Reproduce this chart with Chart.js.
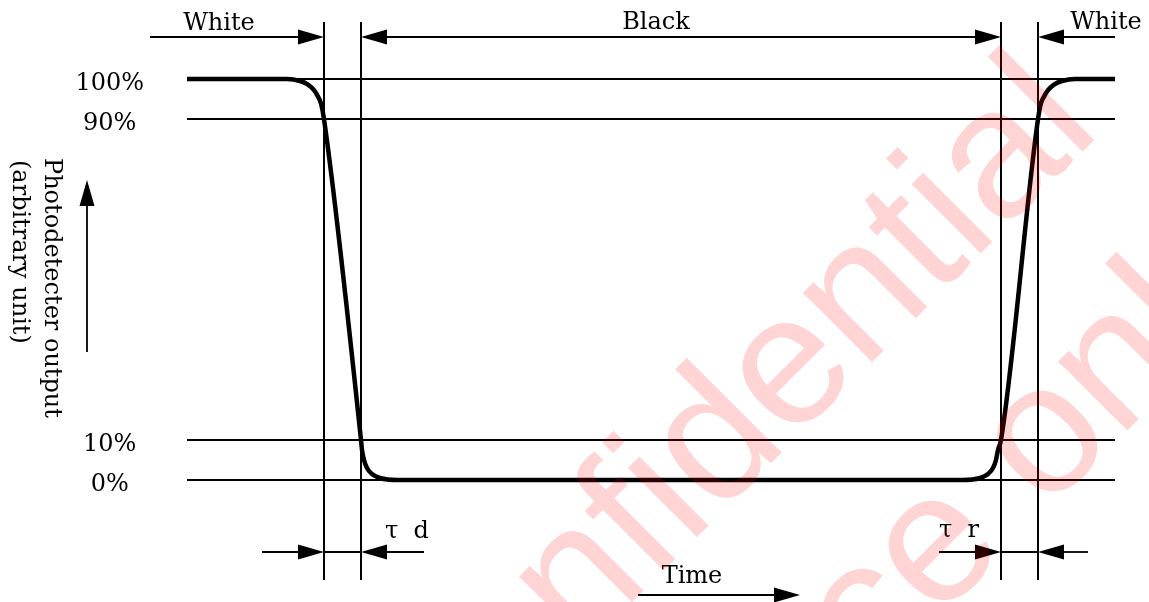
<!DOCTYPE html>
<html><head><meta charset="utf-8">
<script src="https://cdn.jsdelivr.net/npm/chart.js@4"></script>
<style>html,body{margin:0;padding:0;background:#fff}canvas{display:block}</style>
</head><body>
<canvas id="c" width="1149" height="602"></canvas>
<script>
// Time positions (arbitrary units) of the four vertical marker lines
const timeMarks = [137, 174, 814, 851];
// Photodetector response curve (time, output %)
const curveTime   = [0,100,113,121,127,131,134,137,174,175,177,180,185,193,210,776,793,801,806,809,811,814,851,854,857,861,867,875,888,928];
const curveOutput = [100,100,99.5,98.6,97.2,95.6,93.9,90,10,7.5,5,3,1.5,0.5,0,0,0.5,1.5,3,5,7.5,10,90,94,95.6,97.2,98.6,99.5,100,100];
// Level ticks
const levelTicks  = [0, 10, 90, 100];
const levelLabels = ['0%', '10%', '90%', '100%'];
// Text labels
const phaseLabels = ['White', 'Black', 'White'];
const delayLabels = ['τ  d', 'τ  r'];
const yTitleLines = ['Photodetecter output', '(arbitrary unit)'];
const xTitle = 'Time';
const watermarkLines = ['Confidential', 'reference only'];

const SERIF = '"DejaVu Serif", "Liberation Serif", serif';

function seg(c, x1, y1, x2, y2) { c.beginPath(); c.moveTo(x1, y1); c.lineTo(x2, y2); c.stroke(); }
function arrow(c, x1, y1, x2, y2) {
  const L = 26, W = 7.5;
  const dx = x2 - x1, dy = y2 - y1, d = Math.hypot(dx, dy), ux = dx / d, uy = dy / d;
  const bx = x2 - ux * L, by = y2 - uy * L;
  seg(c, x1, y1, bx, by);
  c.beginPath();
  c.moveTo(x2, y2);
  c.lineTo(bx - uy * W, by + ux * W);
  c.lineTo(bx + uy * W, by - ux * W);
  c.closePath(); c.fill();
}

const annot = {
  id: 'annot',
  afterDraw(chart) {
    const xs = chart.scales.x, a = chart.chartArea, c = chart.ctx;
    const T = timeMarks.map(t => xs.getPixelForValue(t));
    c.save();
    c.strokeStyle = '#000'; c.fillStyle = '#000';
    // vertical marker lines
    c.lineWidth = 2;
    T.forEach(px => seg(c, px, a.top - 57, px, a.bottom + 100));
    // top arrows
    c.lineWidth = 1.8;
    const yTop = a.top - 42;
    arrow(c, a.left - 37, yTop, T[0], yTop);
    const mid = (T[1] + T[2]) / 2;
    arrow(c, mid, yTop, T[1], yTop);
    arrow(c, mid, yTop, T[2], yTop);
    arrow(c, a.right, yTop, T[3], yTop);
    // bottom arrows
    const yBot = a.bottom + 72;
    arrow(c, T[0] - 62, yBot, T[0], yBot);
    arrow(c, T[1] + 63, yBot, T[1], yBot);
    seg(c, T[0], yBot, T[1], yBot);
    arrow(c, T[2] - 62, yBot, T[2], yBot);
    arrow(c, T[3] + 50, yBot, T[3], yBot);
    seg(c, T[2], yBot, T[3], yBot);
    // y-axis arrow
    arrow(c, 87, 352, 87, 180);
    // time arrow
    const cx = (a.left + a.right) / 2;
    arrow(c, cx - 13, 595, cx + 149, 595);
    // texts
    c.font = '24px ' + SERIF;
    c.textAlign = 'center'; c.textBaseline = 'alphabetic';
    c.fillText(phaseLabels[0], T[0] - 105, 30);
    c.fillText(phaseLabels[1], T[1] + 295, 29);
    c.fillText(phaseLabels[2], T[3] + 68, 29);
    c.fillText(delayLabels[0], T[1] + 46, 538);
    c.fillText(delayLabels[1], T[2] - 42, 537);
    c.fillText(xTitle, cx + 41, 583);
    // rotated y title
    c.textAlign = 'left';
    c.save(); c.translate(45, 158); c.rotate(Math.PI / 2); c.fillText(yTitleLines[0], 0, 0); c.restore();
    c.save(); c.translate(13, 160); c.rotate(Math.PI / 2); c.fillText(yTitleLines[1], 0, 0); c.restore();
    c.restore();

    // watermark
    const off = document.createElement('canvas');
    off.width = chart.width; off.height = chart.height;
    const o = off.getContext('2d');
    o.fillStyle = '#f00';
    o.font = '185px "Liberation Sans", Arial, sans-serif';
    o.textAlign = 'left'; o.textBaseline = 'alphabetic';
    o.translate(412, 822); o.rotate(-45 * Math.PI / 180);
    o.fillText(watermarkLines[0], 0, 0);
    o.fillText(watermarkLines[1], -166, 229);
    c.save(); c.globalAlpha = 0.17; c.drawImage(off, 0, 0); c.restore();
  }
};

const pts = curveTime.map((t, i) => ({ x: t, y: curveOutput[i] }));
new Chart(document.getElementById('c'), {
  type: 'line',
  data: { datasets: [{ data: pts, borderColor: '#000', borderWidth: 4.5, pointRadius: 0,
    cubicInterpolationMode: 'monotone', clip: false, fill: false }] },
  options: {
    responsive: false, animation: false, devicePixelRatio: 1, events: [],
    layout: { padding: { top: 79, right: 34, bottom: 122, left: 0 } },
    plugins: { legend: { display: false }, tooltip: { enabled: false } },
    scales: {
      x: { type: 'linear', min: 0, max: 928, display: false },
      y: { type: 'linear', min: 0, max: 100, position: 'left',
        afterBuildTicks: ax => { ax.ticks = levelTicks.map(v => ({ value: v })); },
        afterFit: ax => { ax.width = 187; },
        grid: { color: '#000', lineWidth: 2, drawTicks: false },
        border: { display: false },
        ticks: { padding: 43, crossAlign: 'center', labelOffset: 5, color: '#000',
          font: { family: SERIF, size: 24 },
          callback: (v, i) => levelLabels[i] }
      }
    }
  },
  plugins: [annot]
});
</script>
</body></html>
